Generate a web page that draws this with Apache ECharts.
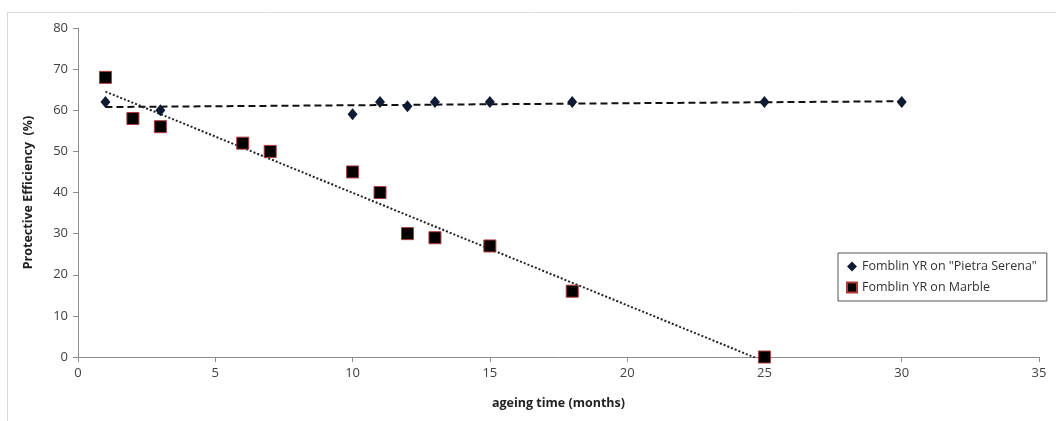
<!DOCTYPE html>
<html>
<head>
<meta charset="utf-8">
<script src="https://cdn.jsdelivr.net/npm/echarts@6/dist/echarts.min.js"></script>
<style>
html,body{margin:0;padding:0;background:#fff;}
#chart{width:1056px;height:421px;}
</style>
</head>
<body>
<div id="chart"></div>
<script>
// Data
const serenaMonths = [1, 3, 10, 11, 12, 13, 15, 18, 25, 30];
const serenaEff    = [62, 60, 59, 62, 61, 62, 62, 62, 62, 62];
const marbleMonths = [1, 2, 3, 6, 7, 10, 11, 12, 13, 15, 18, 25];
const marbleEff    = [68, 58, 56, 52, 50, 45, 40, 30, 29, 27, 16, 0];
const seriesNames  = ['Fomblin YR on "Pietra Serena"', 'Fomblin YR on Marble'];
const xTicks = [0, 5, 10, 15, 20, 25, 30, 35];
const yTicks = [0, 10, 20, 30, 40, 50, 60, 70, 80];

function pairs(xs, ys) { return xs.map((x, i) => [x, ys[i]]); }
// Least-squares linear trendline (as in the spreadsheet chart)
function trend(xs, ys) {
  const n = xs.length;
  const mx = xs.reduce((a, b) => a + b, 0) / n;
  const my = ys.reduce((a, b) => a + b, 0) / n;
  let sxy = 0, sxx = 0;
  for (let i = 0; i < n; i++) { sxy += (xs[i] - mx) * (ys[i] - my); sxx += (xs[i] - mx) ** 2; }
  const b = sxy / sxx, a = my - b * mx;
  const x0 = Math.min(...xs), x1 = Math.max(...xs);
  return [[x0, a + b * x0], [x1, a + b * x1]];
}

const font = '"Open Sans", "Noto Sans", sans-serif';
const chart = echarts.init(document.getElementById('chart'), null, {renderer: 'canvas'});
chart.setOption({
  animation: false,
  backgroundColor: '#ffffff',
  graphic: [
    {type: 'line', shape: {x1: 7, y1: 12.5, x2: 1056, y2: 12.5}, style: {stroke: '#d9d9d9', lineWidth: 1}},
    {type: 'line', shape: {x1: 7.5, y1: 12, x2: 7.5, y2: 421}, style: {stroke: '#d9d9d9', lineWidth: 1}}
  ],
  grid: {left: 78, right: 17, top: 28, bottom: 64},
  legend: {
    data: seriesNames.map(n => ({name: n})),
    orient: 'vertical',
    left: 838, top: 253,
    width: 212,
    padding: [7, 10, 7, 8],
    itemGap: 8,
    itemWidth: 10, itemHeight: 10,
    borderColor: '#555555', borderWidth: 1,
    textStyle: {fontFamily: font, fontSize: 12.5, color: '#333333'}
  },
  xAxis: {
    type: 'value', min: 0, max: 35, interval: 5,
    name: 'ageing time (months)', nameLocation: 'middle', nameGap: 40,
    nameTextStyle: {fontFamily: font, fontSize: 12.5, fontWeight: 'bold', color: '#222'},
    axisLine: {lineStyle: {color: '#8c8c8c'}},
    axisTick: {show: true, length: 5, lineStyle: {color: '#8c8c8c'}},
    axisLabel: {fontFamily: font, fontSize: 13, color: '#404040', margin: 10,
      formatter: v => xTicks.includes(v) ? String(v) : ''},
    splitLine: {show: false}
  },
  yAxis: {
    type: 'value', min: 0, max: 80, interval: 10,
    name: 'Protective Efficiency  (%)', nameLocation: 'middle', nameGap: 43, nameRotate: 90,
    nameTextStyle: {fontFamily: font, fontSize: 12.5, fontWeight: 'bold', color: '#222'},
    axisLine: {show: true, lineStyle: {color: '#8c8c8c'}},
    axisTick: {show: true, length: 5, lineStyle: {color: '#8c8c8c'}},
    axisLabel: {fontFamily: font, fontSize: 13, color: '#404040', margin: 10,
      formatter: v => yTicks.includes(v) ? String(v) : ''},
    splitLine: {show: false}
  },
  series: [
    {
      name: seriesNames[0] + ' trend', type: 'line', data: trend(serenaMonths, serenaEff),
      symbol: 'none', lineStyle: {color: '#111', width: 2, type: [7, 4]}, z: 2, silent: true
    },
    {
      name: seriesNames[1] + ' trend', type: 'line', data: trend(marbleMonths, marbleEff),
      symbol: 'none', clip: true, lineStyle: {color: '#222', width: 2, type: [2, 2]}, z: 2, silent: true
    },
    {
      name: seriesNames[0], type: 'scatter', data: pairs(serenaMonths, serenaEff),
      symbol: 'diamond', symbolSize: [10, 12],
      itemStyle: {color: '#0f1a33', opacity: 1}, z: 3
    },
    {
      name: seriesNames[1], type: 'scatter', data: pairs(marbleMonths, marbleEff),
      symbol: 'rect', symbolSize: 12, clip: false,
      itemStyle: {color: '#000000', borderColor: '#b03a3a', borderWidth: 1, opacity: 1}, z: 3
    }
  ]
});
</script>
</body>
</html>
